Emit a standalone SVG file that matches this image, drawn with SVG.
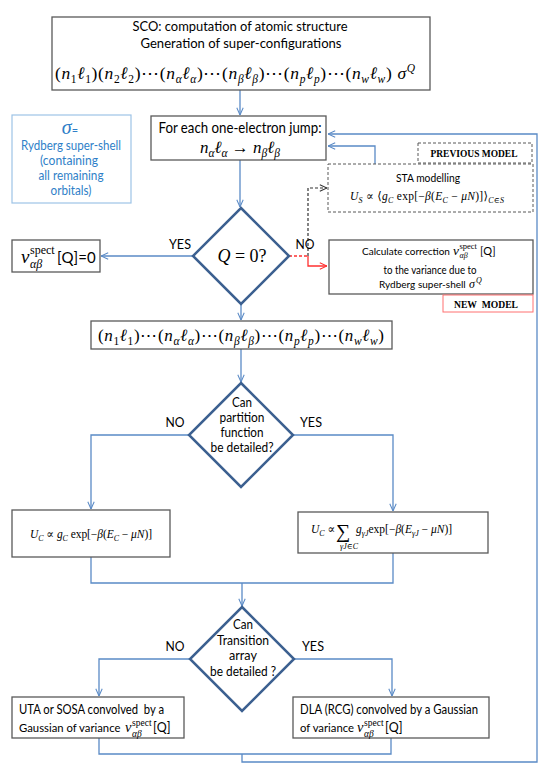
<svg xmlns="http://www.w3.org/2000/svg" width="545" height="771" viewBox="0 0 545 771">
<style>
.t{font-family:Lato,"Liberation Sans",sans-serif;fill:#000}
.m{font-family:"Liberation Serif","DejaVu Serif",serif;font-style:italic;fill:#000}
.u{font-family:"Liberation Serif","DejaVu Serif",serif;fill:#000}
.r{font-style:normal}
.sb{font-size:11.5px;baseline-shift:-4px}
.sp{font-size:11.5px;baseline-shift:7px}
.sb2{font-size:8px;baseline-shift:-3px}
.box{fill:#fff;stroke:#595959;stroke-width:1.3}
.dbox{fill:#fff;stroke:#595959;stroke-width:1;stroke-dasharray:3 2}
.dia{fill:#fff;stroke:#3C6090;stroke-width:2.5}
.con{fill:none;stroke:#5A8AC6;stroke-width:1.3}
.blue{fill:#2F7FC8}
</style>
<defs>
<marker id="ab" viewBox="0 0 10 10" refX="10" refY="5" markerWidth="8" markerHeight="9" markerUnits="userSpaceOnUse" orient="auto"><path d="M1,1 L10,5 L1,9" fill="none" stroke="#5A8AC6" stroke-width="1.3"/></marker>
<marker id="ar" viewBox="0 0 10 10" refX="10" refY="5" markerWidth="8" markerHeight="9" markerUnits="userSpaceOnUse" orient="auto"><path d="M1,1 L10,5 L1,9" fill="none" stroke="#FF3030" stroke-width="1.3"/></marker>
<marker id="ak" viewBox="0 0 10 10" refX="10" refY="5" markerWidth="8" markerHeight="9" markerUnits="userSpaceOnUse" orient="auto"><path d="M1,1 L10,5 L1,9" fill="none" stroke="#333" stroke-width="1.3"/></marker>
</defs>
<rect width="545" height="771" fill="#fff"/>

<g id="connectors">
<path class="con" d="M240,90 V115" marker-end="url(#ab)"/>
<path class="con" d="M240,160 V207" marker-end="url(#ab)"/>
<path class="con" d="M194,256 H101" marker-end="url(#ab)"/>
<path d="M289,256 H308" fill="none" stroke="#FF3030" stroke-width="1.3" stroke-dasharray="3 2"/>
<path d="M308,256 V266 H327" fill="none" stroke="#FF3030" stroke-width="1.3" marker-end="url(#ar)"/>
<path d="M308,256 V188 H327" fill="none" stroke="#333" stroke-width="1.2" stroke-dasharray="3 2" marker-end="url(#ak)"/>
<path class="con" d="M375,164 V146 H328" marker-end="url(#ab)"/>
<path class="con" d="M241,304 V320" marker-end="url(#ab)"/>
<path class="con" d="M241,349 V382" marker-end="url(#ab)"/>
<path class="con" d="M190,435 H91 V509" marker-end="url(#ab)"/>
<path class="con" d="M292,435 H393 V511" marker-end="url(#ab)"/>
<path class="con" d="M91,557 V583 H393 V553"/>
<path class="con" d="M242,583 V606" marker-end="url(#ab)"/>
<path class="con" d="M190,659 H99 V696" marker-end="url(#ab)"/>
<path class="con" d="M294,659 H392 V696" marker-end="url(#ab)"/>
<path class="con" d="M99,738 V754 H391 V738"/>
<path class="con" d="M242,754 V762 H537 V134 H328" marker-end="url(#ab)"/>
</g>

<g id="sco">
<rect class="box" x="52" y="17" width="378" height="73"/>
<text class="t" x="240" y="31" font-size="14" text-anchor="middle" textLength="215" lengthAdjust="spacingAndGlyphs">SCO: computation of atomic structure</text>
<text class="t" x="241" y="48" font-size="14" text-anchor="middle" textLength="201" lengthAdjust="spacingAndGlyphs">Generation of super-configurations</text>
<text class="m" x="55" y="79" font-size="17.5" textLength="360"><tspan class="r">(</tspan>n<tspan class="sb r">1</tspan>ℓ<tspan class="sb r">1</tspan><tspan class="r">)(</tspan>n<tspan class="sb r">2</tspan>ℓ<tspan class="sb r">2</tspan><tspan class="r">)⋯(</tspan>n<tspan class="sb">α</tspan>ℓ<tspan class="sb">α</tspan><tspan class="r">)⋯(</tspan>n<tspan class="sb">β</tspan>ℓ<tspan class="sb">β</tspan><tspan class="r">)⋯(</tspan>n<tspan class="sb">p</tspan>ℓ<tspan class="sb">p</tspan><tspan class="r">)⋯(</tspan>n<tspan class="sb">w</tspan>ℓ<tspan class="sb">w</tspan><tspan class="r">) </tspan>σ<tspan class="sp">Q</tspan></text>
</g>

<g id="sigma">
<rect x="12" y="115" width="119" height="88" fill="#fff" stroke="#9DC3E6" stroke-width="1.2"/>
<text x="70" y="134" text-anchor="middle"><tspan class="m blue" font-size="20">σ</tspan><tspan class="t blue" font-size="11">=</tspan></text>
<text class="t blue" x="71" y="150" font-size="12.5" text-anchor="middle" textLength="100" lengthAdjust="spacingAndGlyphs">Rydberg super-shell</text>
<text class="t blue" x="69" y="165" font-size="12.5" text-anchor="middle" textLength="58" lengthAdjust="spacingAndGlyphs">(containing</text>
<text class="t blue" x="71" y="180" font-size="12.5" text-anchor="middle" textLength="65" lengthAdjust="spacingAndGlyphs">all remaining</text>
<text class="t blue" x="71" y="195" font-size="12.5" text-anchor="middle" textLength="41" lengthAdjust="spacingAndGlyphs">orbitals)</text>
</g>

<g id="foreach">
<rect class="box" x="151" y="116" width="175" height="44"/>
<text class="t" x="240" y="133" font-size="15" text-anchor="middle" textLength="163" lengthAdjust="spacingAndGlyphs">For each one-electron jump:</text>
<text class="m" x="200" y="153" font-size="17" textLength="80">n<tspan class="sb">α</tspan>ℓ<tspan class="sb">α</tspan><tspan class="r"> → </tspan>n<tspan class="sb">β</tspan>ℓ<tspan class="sb">β</tspan></text>
</g>

<g id="previous">
<rect class="dbox" x="418" y="143" width="114" height="20"/>
<text class="u" x="474" y="157" font-weight="bold" font-size="11" text-anchor="middle" fill="#222" textLength="87" lengthAdjust="spacingAndGlyphs">PREVIOUS MODEL</text>
</g>

<g id="sta">
<rect class="dbox" x="328" y="164" width="205" height="48"/>
<text class="t" x="428" y="182" font-size="11" text-anchor="middle" textLength="64" lengthAdjust="spacingAndGlyphs">STA modelling</text>
<text class="m" x="350" y="200" font-size="11.5" textLength="154">U<tspan class="sb2">S</tspan><tspan class="r"> ∝ ⟨</tspan>g<tspan class="sb2">C</tspan><tspan class="r"> exp[−</tspan>β<tspan class="r">(</tspan>E<tspan class="sb2">C</tspan><tspan class="r"> − </tspan>μN<tspan class="r">)]⟩</tspan><tspan class="sb2">C∈S</tspan></text>
</g>

<g id="q0">
<polygon class="dia" points="241,208 289,256 241,304 193,256"/>
<text class="m" x="242" y="262" font-size="18" text-anchor="middle">Q<tspan class="r"> = 0?</tspan></text>
</g>
<text class="t" x="180" y="249" font-size="14" text-anchor="middle" textLength="22" lengthAdjust="spacingAndGlyphs">YES</text>
<text class="t" x="305" y="249" font-size="14" text-anchor="middle" textLength="19" lengthAdjust="spacingAndGlyphs">NO</text>

<g id="vzero">
<rect class="box" x="12" y="240" width="88" height="32"/>
<text class="m" x="21" y="263" font-size="19">v<tspan class="u r" x="30" y="254" font-size="12">spect</tspan><tspan x="30" y="268" font-size="12">αβ</tspan><tspan class="t r" x="57" y="263" font-size="15">[Q]=0</tspan></text>
</g>

<g id="calc">
<rect class="box" x="329" y="240" width="204" height="54"/>
<text class="t" x="362" y="255" font-size="10">Calculate correction<tspan class="m" x="453" font-size="13.5">v</tspan><tspan class="u" x="459.5" y="249" font-size="8.5">spect</tspan><tspan class="m" x="459.5" y="258" font-size="8">αβ</tspan><tspan x="480" y="255" font-size="11">[Q]</tspan></text>
<text class="t" x="430" y="274" font-size="11" text-anchor="middle" textLength="93" lengthAdjust="spacingAndGlyphs">to the variance due to</text>
<text class="t" x="379" y="288" font-size="10">Rydberg super-shell<tspan class="m" x="469" font-size="12">σ</tspan><tspan class="m" x="476" y="283" font-size="8">Q</tspan></text>
</g>

<g id="newmodel">
<rect x="443" y="295" width="90" height="17" fill="#fff" stroke="#FF7070" stroke-width="1"/>
<text class="u" x="486" y="308" font-weight="bold" font-size="11" text-anchor="middle" fill="#E00000" textLength="64" lengthAdjust="spacingAndGlyphs" xml:space="preserve">NEW  MODEL</text>
</g>

<g id="config">
<rect class="box" x="91" y="321" width="301" height="28"/>
<text class="m" x="98" y="341" font-size="17" textLength="286"><tspan class="r">(</tspan>n<tspan class="sb r">1</tspan>ℓ<tspan class="sb r">1</tspan><tspan class="r">)⋯(</tspan>n<tspan class="sb">α</tspan>ℓ<tspan class="sb">α</tspan><tspan class="r">)⋯(</tspan>n<tspan class="sb">β</tspan>ℓ<tspan class="sb">β</tspan><tspan class="r">)⋯(</tspan>n<tspan class="sb">p</tspan>ℓ<tspan class="sb">p</tspan><tspan class="r">)⋯(</tspan>n<tspan class="sb">w</tspan>ℓ<tspan class="sb">w</tspan><tspan class="r">)</tspan></text>
</g>

<g id="partition">
<polygon class="dia" points="241,383 293,435 241,487 189,435"/>
<text class="t" x="242" y="407" font-size="13" text-anchor="middle" textLength="20" lengthAdjust="spacingAndGlyphs">Can</text>
<text class="t" x="242" y="422" font-size="13" text-anchor="middle" textLength="45" lengthAdjust="spacingAndGlyphs">partition</text>
<text class="t" x="242" y="437" font-size="13" text-anchor="middle" textLength="43" lengthAdjust="spacingAndGlyphs">function</text>
<text class="t" x="242" y="452" font-size="13" text-anchor="middle" textLength="63" lengthAdjust="spacingAndGlyphs">be detailed?</text>
</g>
<text class="t" x="175" y="427" font-size="14" text-anchor="middle" textLength="19" lengthAdjust="spacingAndGlyphs">NO</text>
<text class="t" x="311" y="427" font-size="14" text-anchor="middle" textLength="22" lengthAdjust="spacingAndGlyphs">YES</text>

<g id="uc-left">
<rect class="box" x="12" y="510" width="158" height="47"/>
<text class="m" x="30" y="538" font-size="11.5" textLength="122">U<tspan class="sb2">C</tspan><tspan class="r"> ∝ </tspan>g<tspan class="sb2">C</tspan><tspan class="r"> exp[−</tspan>β<tspan class="r">(</tspan>E<tspan class="sb2">C</tspan><tspan class="r"> − </tspan>μN<tspan class="r">)]</tspan></text>
</g>

<g id="uc-right">
<rect class="box" x="298" y="512" width="190" height="41"/>
<text class="m" x="311" y="533" font-size="11.5">U<tspan class="sb2">C</tspan><tspan class="r"> ∝</tspan><tspan class="u r" x="336" y="538" font-size="20">∑</tspan><tspan x="340" y="549" font-size="8">γJ∈C</tspan><tspan x="356" y="533">g</tspan><tspan class="sb2">γJ</tspan><tspan class="r">exp[−</tspan>β<tspan class="r">(</tspan>E<tspan class="sb2">γJ</tspan><tspan class="r"> − </tspan>μN<tspan class="r">)]</tspan></text>
</g>

<g id="transition">
<polygon class="dia" points="242,607 294,659 242,711 190,659"/>
<text class="t" x="243" y="629" font-size="13" text-anchor="middle" textLength="20" lengthAdjust="spacingAndGlyphs">Can</text>
<text class="t" x="243" y="645" font-size="13" text-anchor="middle" textLength="52" lengthAdjust="spacingAndGlyphs">Transition</text>
<text class="t" x="243" y="660" font-size="13" text-anchor="middle" textLength="28" lengthAdjust="spacingAndGlyphs">array</text>
<text class="t" x="243" y="676" font-size="13" text-anchor="middle" textLength="66" lengthAdjust="spacingAndGlyphs">be detailed ?</text>
</g>
<text class="t" x="175" y="651" font-size="14" text-anchor="middle" textLength="19" lengthAdjust="spacingAndGlyphs">NO</text>
<text class="t" x="313" y="651" font-size="14" text-anchor="middle" textLength="22" lengthAdjust="spacingAndGlyphs">YES</text>

<g id="uta">
<rect class="box" x="12" y="697" width="172" height="41"/>
<text class="t" x="19" y="714" font-size="12.5" xml:space="preserve" textLength="145" lengthAdjust="spacingAndGlyphs">UTA or SOSA convolved  by a</text>
<text class="t" x="19" y="732" font-size="11.3">Gaussian of variance<tspan class="m" x="125" font-size="14.5">v</tspan><tspan class="u" x="132" y="726" font-size="9.5">spect</tspan><tspan class="m" x="132" y="737" font-size="9.5">αβ</tspan><tspan x="153" y="732" font-size="12.5">[Q]</tspan></text>
</g>

<g id="dla">
<rect class="box" x="293" y="697" width="196" height="41"/>
<text class="t" x="300" y="714" font-size="12.5" textLength="178" lengthAdjust="spacingAndGlyphs">DLA (RCG) convolved by a Gaussian</text>
<text class="t" x="300" y="732" font-size="11.3">of variance<tspan class="m" x="357" font-size="14.5">v</tspan><tspan class="u" x="364" y="726" font-size="9.5">spect</tspan><tspan class="m" x="364" y="737" font-size="9.5">αβ</tspan><tspan x="385" y="732" font-size="12.5">[Q]</tspan></text>
</g>
</svg>
